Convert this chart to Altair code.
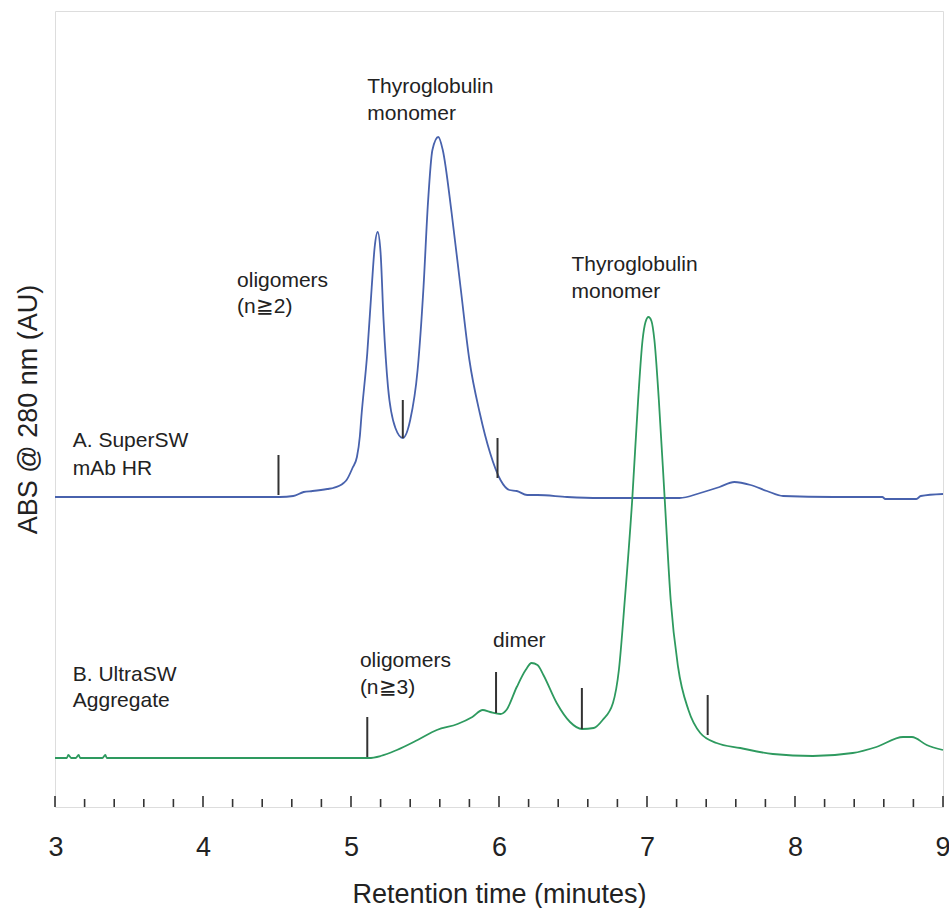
import altair as alt
import pandas as pd

# --- Trace A: SuperSW mAb HR (blue) ---
a_time = [3.00, 4.51, 4.52, 4.61, 4.68, 4.74, 4.84, 4.88, 4.95, 4.97, 5.01, 5.04, 5.06, 5.07,
          5.11, 5.14, 5.16, 5.18, 5.20, 5.22, 5.25, 5.30, 5.35, 5.40, 5.45, 5.49, 5.52, 5.55,
          5.59, 5.62, 5.68, 5.74, 5.80, 5.87, 5.94, 6.01, 6.07, 6.12, 6.19, 6.26, 6.46, 6.68,
          7.22, 7.36, 7.49, 7.59, 7.70, 7.81, 7.92, 8.26, 8.59, 8.61, 8.82, 8.85, 9.00]
a_abs = [310, 310, 310, 311, 315, 316, 318, 319, 324, 327, 339, 350, 371, 390,
         454, 520, 560, 575, 554, 487, 420, 379, 369, 387, 437, 520, 604, 657,
         670, 657, 594, 520, 447, 394, 354, 327, 317, 316, 312, 312, 310, 309,
         309, 314, 320, 325, 322, 316, 311, 310, 310, 308, 308, 311, 313]

# --- Trace B: UltraSW Aggregate (green) ---
b_time = [3.00, 3.08, 3.09, 3.11, 3.14, 3.16, 3.17, 3.32, 3.34, 3.35, 5.12, 5.20, 5.31, 5.45,
          5.58, 5.72, 5.82, 5.89, 5.94, 6.01, 6.05, 6.12, 6.18, 6.22, 6.26, 6.30, 6.39, 6.48,
          6.56, 6.64, 6.70, 6.77, 6.81, 6.85, 6.90, 6.94, 6.97, 6.99, 7.01, 7.03, 7.05, 7.08,
          7.12, 7.16, 7.21, 7.28, 7.36, 7.47, 7.63, 7.85, 8.12, 8.39, 8.55, 8.73, 8.79, 8.89, 9.00]
b_abs = [49, 49, 52, 49, 49, 52, 49, 49, 52, 49, 49, 51, 57, 67,
         77, 83, 90, 97, 95, 93, 97, 120, 137, 144, 142, 132, 104, 85,
         78, 79, 87, 104, 137, 207, 307, 407, 467, 485, 490, 486, 467, 407,
         307, 207, 140, 97, 74, 64, 59, 53, 51, 54, 60, 70, 70, 62, 57]

# --- Fraction markers (vertical bars) ---
mark_time = [4.51, 5.35, 5.99, 5.11, 5.98, 6.56, 7.41]
mark_lo = [312, 369, 329, 50, 94, 78, 72]
mark_hi = [352, 407, 369, 90, 135, 119, 112]

# --- Annotations ---
ann_text = ["Thyroglobulin", "monomer", "Thyroglobulin", "monomer",
            "oligomers", "(n≧2)", "A. SuperSW", "mAb HR",
            "B. UltraSW", "Aggregate", "oligomers", "(n≧3)", "dimer"]
ann_time = [5.11, 5.11, 6.49, 6.49, 4.23, 4.23, 3.12, 3.12, 3.12, 3.12, 5.06, 5.06, 5.96]
ann_abs = [714, 687, 536, 509, 520, 494, 360, 332, 126, 100, 140, 113, 160]

# --- Axis ticks ---
major_ticks = [3, 4, 5, 6, 7, 8, 9]
minor_ticks = [3.2, 3.4, 3.6, 3.8, 4.2, 4.4, 4.6, 4.8, 5.2, 5.4, 5.6, 5.8,
               6.2, 6.4, 6.6, 6.8, 7.2, 7.4, 7.6, 7.8, 8.2, 8.4, 8.6, 8.8]

FONT = "Liberation Sans"
W, H = 888, 796

traces = pd.concat([
    pd.DataFrame({"t": a_time, "v": a_abs, "trace": "A"}),
    pd.DataFrame({"t": b_time, "v": b_abs, "trace": "B"}),
])
markers = pd.DataFrame({"t": mark_time, "lo": mark_lo, "hi": mark_hi})
ann = pd.DataFrame({"t": ann_time, "v": ann_abs, "text": ann_text})
majors = pd.DataFrame({"t": major_ticks})
minors = pd.DataFrame({"t": minor_ticks})

xscale = alt.Scale(domain=[3, 9], nice=False, zero=False)
yscale = alt.Scale(domain=[0, 796], nice=False, zero=False)

xaxis = alt.Axis(values=major_ticks, format="d", ticks=False, domain=False,
                 grid=False, labelFont=FONT, labelFontSize=27, labelColor="#222",
                 labelFlush=True, labelFlushOffset=7,
                 labelBaseline="alphabetic", labelPadding=48,
                 title="Retention time (minutes)", titleFont=FONT,
                 titleFontSize=27, titleFontWeight="normal", titleColor="#222",
                 titleBaseline="alphabetic", titleY=95)
yaxis = alt.Axis(labels=False, ticks=False, domain=False, grid=False,
                 title="ABS @ 280 nm (AU)", titleFont=FONT, titleFontSize=27,
                 titleFontWeight="normal", titleColor="#222", titleAngle=270,
                 titleBaseline="alphabetic", titleX=-19, titleY=398, titleAlign="center")

lines = alt.Chart(traces).mark_line(strokeWidth=1.8, interpolate="monotone").encode(
    x=alt.X("t:Q", scale=xscale, axis=xaxis),
    y=alt.Y("v:Q", scale=yscale, axis=yaxis),
    color=alt.Color("trace:N", scale=alt.Scale(domain=["A", "B"], range=["#4862ad", "#2e9a5f"]),
                    legend=None),
)

bars = alt.Chart(markers).mark_rule(strokeWidth=2, color="#333").encode(
    x="t:Q", y="lo:Q", y2="hi:Q")

labels = alt.Chart(ann).mark_text(align="left", baseline="alphabetic", font=FONT,
                                  fontSize=21, color="#222").encode(
    x="t:Q", y="v:Q", text="text:N")

maj = alt.Chart(majors).mark_rule(strokeWidth=1.6, color="#333").encode(
    x="t:Q", y=alt.value(H), y2=alt.value(H - 11))
mino = alt.Chart(minors).mark_rule(strokeWidth=1.6, color="#333").encode(
    x="t:Q", y=alt.value(H), y2=alt.value(H - 8))

chart = alt.layer(lines, bars, labels, maj, mino).properties(
    width=W, height=H, autosize="none",
    padding={"left": 55, "top": 11, "right": 6, "bottom": 101},
).configure_view(stroke="#333", strokeWidth=2).configure(background="white")

chart.save("out.html", embed_options={"renderer": "svg", "actions": False})
